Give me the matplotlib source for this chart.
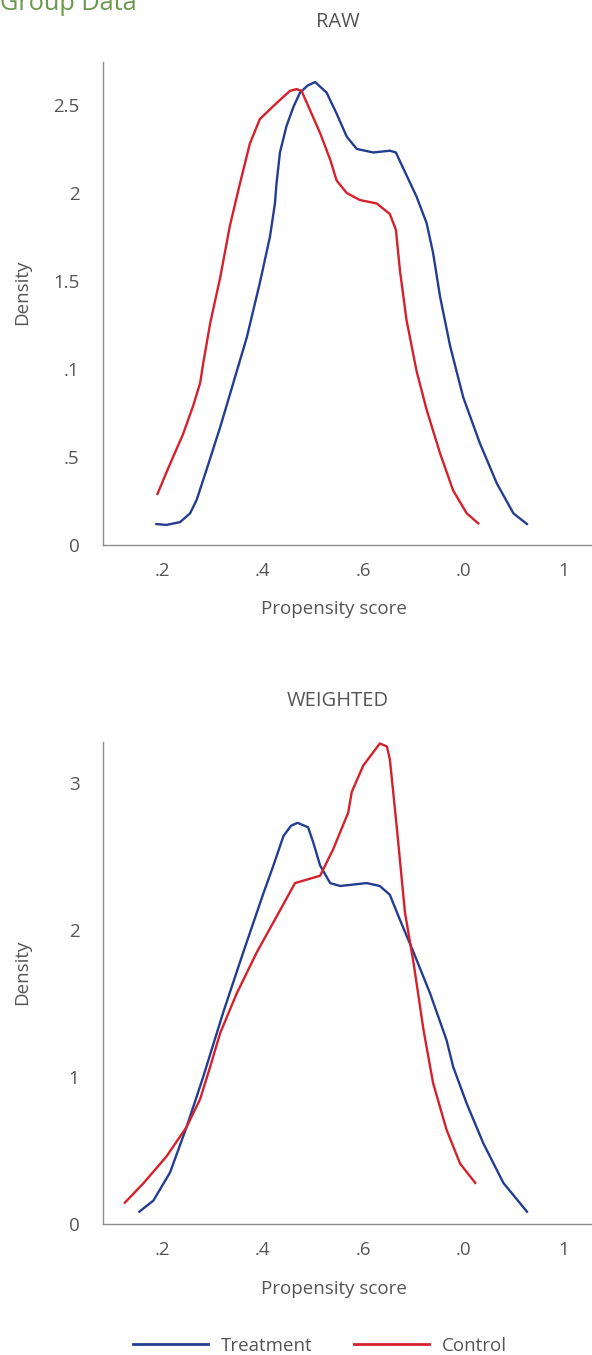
import matplotlib
matplotlib.use("Agg")
import matplotlib.pyplot as plt
from matplotlib.lines import Line2D

plt.rcParams['font.family'] = ['Open Sans', 'DejaVu Sans']

# RAW panel
raw_treat_x = [0.188, 0.208, 0.235, 0.255, 0.268, 0.288, 0.315, 0.341, 0.368, 0.394, 0.414, 0.424,
               0.427, 0.434, 0.447, 0.461, 0.474, 0.489, 0.504, 0.527, 0.547, 0.567, 0.587, 0.620,
               0.653, 0.665, 0.673, 0.706, 0.726, 0.739, 0.753, 0.773, 0.799, 0.832, 0.866, 0.899, 0.926]
raw_treat_y = [0.119, 0.114, 0.13, 0.18, 0.256, 0.43, 0.67, 0.92, 1.18, 1.49, 1.75, 1.94,
               2.05, 2.23, 2.38, 2.49, 2.57, 2.61, 2.63, 2.57, 2.45, 2.32, 2.25, 2.23,
               2.24, 2.23, 2.18, 1.98, 1.83, 1.66, 1.41, 1.13, 0.84, 0.58, 0.35, 0.18, 0.119]
raw_ctrl_x = [0.190, 0.215, 0.241, 0.261, 0.275, 0.281, 0.295, 0.315, 0.334, 0.354, 0.374, 0.394,
              0.427, 0.454, 0.467, 0.477, 0.494, 0.514, 0.534, 0.547, 0.567, 0.593, 0.627, 0.653,
              0.665, 0.673, 0.686, 0.706, 0.726, 0.753, 0.779, 0.806, 0.829]
raw_ctrl_y = [0.29, 0.46, 0.63, 0.79, 0.92, 1.03, 1.26, 1.52, 1.81, 2.05, 2.28, 2.42,
              2.51, 2.58, 2.59, 2.58, 2.47, 2.34, 2.19, 2.07, 2.00, 1.96, 1.94, 1.88,
              1.79, 1.56, 1.28, 0.99, 0.77, 0.52, 0.31, 0.18, 0.123]

# WEIGHTED panel
w_treat_x = [0.154, 0.182, 0.215, 0.248, 0.281, 0.321, 0.361, 0.401, 0.421, 0.441, 0.456, 0.469,
             0.490, 0.500, 0.514, 0.534, 0.554, 0.607, 0.633, 0.653, 0.673, 0.700, 0.733, 0.766,
             0.779, 0.806, 0.839, 0.879, 0.926]
w_treat_y = [0.084, 0.16, 0.35, 0.66, 1.00, 1.44, 1.85, 2.25, 2.44, 2.64, 2.71, 2.73,
             2.70, 2.60, 2.44, 2.32, 2.30, 2.32, 2.30, 2.24, 2.07, 1.85, 1.57, 1.25,
             1.07, 0.82, 0.55, 0.28, 0.084]
w_ctrl_x = [0.125, 0.162, 0.208, 0.248, 0.275, 0.295, 0.315, 0.348, 0.388, 0.427, 0.464, 0.514,
            0.540, 0.570, 0.577, 0.600, 0.633, 0.647, 0.653, 0.667, 0.683, 0.700, 0.720, 0.739,
            0.766, 0.793, 0.823]
w_ctrl_y = [0.145, 0.277, 0.46, 0.66, 0.85, 1.07, 1.30, 1.57, 1.85, 2.09, 2.32, 2.37,
            2.55, 2.80, 2.94, 3.12, 3.27, 3.25, 3.16, 2.69, 2.12, 1.78, 1.32, 0.96,
            0.64, 0.41, 0.28]

x_ticks = [0.2, 0.4, 0.6, 0.8, 1.0]
x_labels = ['.2', '.4', '.6', '.0', '1']
raw_yticks = [0, 0.5, 1, 1.5, 2, 2.5]
raw_ylabels = ['0', '.5', '.1', '1.5', '2', '2.5']
w_yticks = [0, 1, 2, 3]
w_ylabels = ['0', '1', '2', '3']

blue = '#233d91'
red = '#d6202b'
grey = '#555555'
fs = 13.5

W, H = 592, 1355
fig = plt.figure(figsize=(W / 100, H / 100), dpi=100)


def panel(rect, tx, ty, cx, cy, ylim, yticks, ylabels):
    ax = fig.add_axes(rect)
    ax.plot(tx, ty, color=blue, lw=1.7, solid_joinstyle='round')
    ax.plot(cx, cy, color=red, lw=1.7, solid_joinstyle='round')
    ax.set_xlim(0.0815, 1.0556)
    ax.set_ylim(ylim)
    ax.set_xticks(x_ticks)
    ax.set_xticklabels(x_labels)
    ax.set_yticks(yticks)
    ax.set_yticklabels(ylabels)
    ax.tick_params(length=0, labelsize=fs, colors=grey)
    ax.tick_params(axis='y', pad=17)
    ax.tick_params(axis='x', pad=12)
    for s in ['top', 'right']:
        ax.spines[s].set_visible(False)
    for s in ['left', 'bottom']:
        ax.spines[s].set_color('#8c8c8c')
        ax.spines[s].set_linewidth(1.0)
    return ax


def fx(px):
    return px / W


def fy(py):
    return 1 - py / H


panel([fx(103), fy(545), 1 - fx(103), fy(62) - fy(545)],
      raw_treat_x, raw_treat_y, raw_ctrl_x, raw_ctrl_y, (0, 2.744), raw_yticks, raw_ylabels)
panel([fx(103), fy(1224), 1 - fx(103), fy(742) - fy(1224)],
      w_treat_x, w_treat_y, w_ctrl_x, w_ctrl_y, (0, 3.28), w_yticks, w_ylabels)

fig.text(fx(0), fy(10), 'Group Data', color='#6a9a4c', fontsize=18.2, ha='left', va='baseline')
fig.text(fx(338), fy(22), 'RAW', color=grey, fontsize=14.5, ha='center', va='center')
fig.text(fx(338), fy(701), 'WEIGHTED', color=grey, fontsize=14.5, ha='center', va='center')
fig.text(fx(334), fy(609), 'Propensity score', color=grey, fontsize=fs, ha='center', va='center')
fig.text(fx(334), fy(1289), 'Propensity score', color=grey, fontsize=fs, ha='center', va='center')
fig.text(fx(22), fy(292), 'Density', color=grey, fontsize=fs, rotation=90, ha='center', va='center')
fig.text(fx(22), fy(972), 'Density', color=grey, fontsize=fs, rotation=90, ha='center', va='center')

handles = [Line2D([], [], color=blue, lw=2), Line2D([], [], color=red, lw=2)]
leg = fig.legend(handles, ['Treatment', 'Control'], loc='center', bbox_to_anchor=(fx(320), fy(1346)),
                 ncol=2, frameon=False, fontsize=fs, handlelength=4.0, handletextpad=0.7,
                 columnspacing=2.2)
for t in leg.get_texts():
    t.set_color(grey)

fig.savefig('out.png', dpi=100)
